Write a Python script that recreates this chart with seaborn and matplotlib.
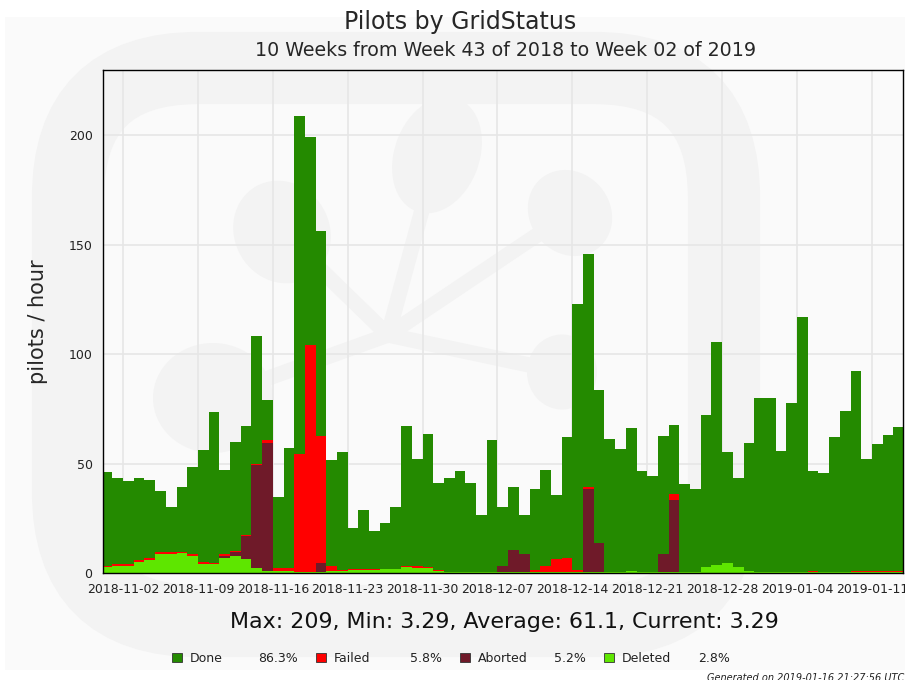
import numpy as np
import pandas as pd
import seaborn as sns
import matplotlib.pyplot as plt
from matplotlib.patches import FancyBboxPatch, Ellipse, Rectangle

# Daily pilot rates (pilots / hour), one value per day
days = pd.date_range("2018-10-31", "2019-01-13", freq="D")

deleted = [2.7, 3.3, 3.3, 5.0, 6.1, 8.5, 8.8, 9.1, 7.6, 4.1,
           4.1, 7.0, 7.6, 6.4, 2.4, 0.9, 0.9, 0.9, 0.5, 0.3,
           0.3, 0.9, 0.9, 1.4, 1.4, 1.4, 1.8, 1.8, 2.7, 2.4,
           2.4, 0.9, 0.3, 0.3, 0.3, 0.3, 0.3, 0.3, 0.3, 0.3,
           0.3, 0.3, 0.3, 0.3, 0.3, 0.3, 0.3, 0.3, 0.3, 0.8,
           0.3, 0.3, 0.3, 0.3, 0.3, 0.6, 2.9, 3.5, 4.4, 2.7,
           1.1, 0.3, 0.3, 0.3, 0.3, 0.3, 0.3, 0.3, 0.3, 0.3,
           0.3, 0.3, 0.3, 0.3, 0.3]
aborted = [0, 0, 0, 0, 0, 0, 0, 0, 0, 0,
           0, 0.9, 1.8, 10.6, 47.0, 58.6, 0, 0, 0, 0,
           4.2, 0, 0, 0, 0, 0, 0, 0, 0, 0,
           0, 0, 0, 0, 0, 0, 0.3, 3.0, 10.2, 8.6,
           0, 0, 0, 0, 0, 38.2, 13.2, 0, 0, 0,
           0.3, 0.3, 8.6, 33.0, 0, 0, 0, 0, 0, 0,
           0, 0, 0, 0, 0, 0, 0, 0, 0, 0,
           0, 0, 0, 0, 0]
failed = [0.7, 0.6, 0.6, 0.8, 0.8, 0.9, 1.0, 0.7, 0.9, 0.9,
          0.4, 0.6, 0.8, 0.4, 0.4, 1.1, 1.5, 1.5, 54.0, 103.8,
          58.2, 2.1, 0.5, 0.3, 0.3, 0.2, 0, 0, 0.6, 0.6,
          0.2, 0.5, 0.3, 0, 0, 0, 0, 0, 0, 0,
          0.9, 3.0, 5.9, 6.5, 0.9, 0.6, 0, 0, 0, 0,
          0, 0, 0, 2.7, 0, 0, 0, 0, 0, 0,
          0, 0, 0, 0, 0, 0, 0.4, 0, 0, 0,
          0.4, 0.4, 0.4, 0.4, 0.4]
done = [42.8, 39.7, 38.2, 37.8, 35.7, 28.2, 20.4, 29.7, 40.0, 51.2,
        69.1, 38.5, 49.5, 49.6, 58.4, 18.4, 32.4, 54.6, 154.5, 95.3,
        93.7, 48.8, 54.1, 18.8, 26.9, 17.4, 21.2, 28.4, 63.7, 49.0,
        60.9, 39.6, 42.6, 46.4, 40.7, 26.2, 60.0, 26.9, 29.0, 17.6,
        37.3, 44.0, 29.3, 55.5, 121.7, 106.8, 70.3, 60.9, 56.2, 65.6,
        45.8, 43.6, 53.8, 31.6, 40.3, 37.6, 69.2, 102.3, 50.8, 40.6,
        58.1, 79.5, 79.5, 55.3, 77.4, 116.5, 46.1, 45.5, 62.0, 73.8,
        91.4, 51.3, 58.1, 62.2, 66.1]

statuses = ["Done", "Failed", "Aborted", "Deleted"]
colors = ["#248a00", "#ff0000", "#6f1a29", "#5ee600"]
shares = ["86.3%", "5.8%", "5.2%", "2.8%"]
tick_dates = pd.date_range("2018-11-02", "2019-01-11", freq="7D")
stats_line = "Max: 209, Min: 3.29, Average: 61.1, Current: 3.29"

# cumulative heights, drawn tallest first so the layers overlap into a stack
c_del = np.array(deleted)
c_abo = c_del + np.array(aborted)
c_fail = c_abo + np.array(failed)
c_done = c_fail + np.array(done)
cum = {"Done": c_done, "Failed": c_fail, "Aborted": c_abo, "Deleted": c_del}

rows = []
for s in statuses:
    for i, v in enumerate(cum[s]):
        rows.append({"day": i, "status": s, "rate": v})
df = pd.DataFrame(rows)

sns.set_style("white")
plt.rcParams["font.family"] = ["DejaVu Sans"]

W, H = 905, 680
fig = plt.figure(figsize=(W / 100, H / 100), dpi=100, facecolor="white")

# background + faint logo watermark, drawn in pixel coords
bg = fig.add_axes([0, 0, 1, 1], zorder=-1)
bg.set_xlim(0, W)
bg.set_ylim(H, 0)
bg.axis("off")
bg.add_patch(Rectangle((5, 17), 900, 653, facecolor="#fafafa", edgecolor="none"))
wm = "#f3f3f3"
bg.add_patch(FancyBboxPatch((68, 68), 656, 553, boxstyle="round,pad=0,rounding_size=130",
                            facecolor="none", edgecolor=wm, linewidth=52))
hub = (388, 335)
for cx, cy, w, h, ang in [(437, 155, 85, 120, 20), (282, 232, 95, 105, -30),
                          (570, 213, 80, 90, -40), (213, 398, 120, 110, 0),
                          (562, 372, 70, 75, 0)]:
    bg.plot([hub[0], cx], [hub[1], cy], color=wm, lw=11, solid_capstyle="round")
    bg.add_patch(Ellipse((cx, cy), w, h, angle=ang, facecolor=wm, edgecolor="none"))

ax = fig.add_axes([103 / W, 1 - 573 / H, 800 / W, 503 / H], zorder=1)
ax.set_facecolor("none")

sns.barplot(data=df, x="day", y="rate", hue="status", hue_order=statuses,
            palette=dict(zip(statuses, colors)), dodge=False, width=1.0,
            linewidth=0, saturation=1, errorbar=None, legend=False, ax=ax)

tick_pos = [(d - days[0]).days - 0.5 for d in tick_dates]
ax.set_xticks(tick_pos)
ax.set_xticklabels([d.strftime("%Y-%m-%d") for d in tick_dates], fontsize=9, color="#222222")
ax.set_xlim(-0.37, 74.4)
ax.set_ylim(0, 229.9)
ax.set_yticks([0, 50, 100, 150, 200])
ax.tick_params(axis="y", labelsize=9, labelcolor="#222222")
ax.tick_params(axis="both", direction="out", length=4, width=1, color="#333333")
ax.set_xlabel("")
ax.set_ylabel("pilots / hour", fontsize=15)
ax.yaxis.set_label_coords(-0.069, 0.5)
ax.set_axisbelow(True)
ax.grid(True, color="#e6e6e6", linewidth=1.2)
for sp in ax.spines.values():
    sp.set_visible(True)
    sp.set_color("black")
    sp.set_linewidth(1)

def fx(x):
    return x / W

def fy(y):
    return 1 - y / H

fig.text(fx(460), fy(22), "Pilots by GridStatus", ha="center", va="center", fontsize=17)
fig.text(fx(506), fy(50), "10 Weeks from Week 43 of 2018 to Week 02 of 2019",
         ha="center", va="center", fontsize=13.7)
fig.text(fx(504), fy(622), stats_line, ha="center", va="center", fontsize=15.9, color="#111111")

# legend row
for i, (name, col, pct) in enumerate(zip(statuses, colors, shares)):
    x0 = 177 + 144 * i
    bg.add_patch(Rectangle((x0 - 5, 653), 10, 9, facecolor=col, edgecolor="#333333", linewidth=0.6))
    bg.text(x0 + 13, 658, name, ha="left", va="center", fontsize=9, color="#222222")
    bg.text(x0 + 121, 658, pct, ha="right", va="center", fontsize=9, color="#222222")

# footer runs off the right edge, as in the original
fig.text(fx(707), fy(678), "Generated on 2019-01-16 21:27:56 UTC", ha="left", va="center",
         fontsize=7, style="italic", color="#222222")

fig.savefig("out.png", dpi=100, facecolor="white")
